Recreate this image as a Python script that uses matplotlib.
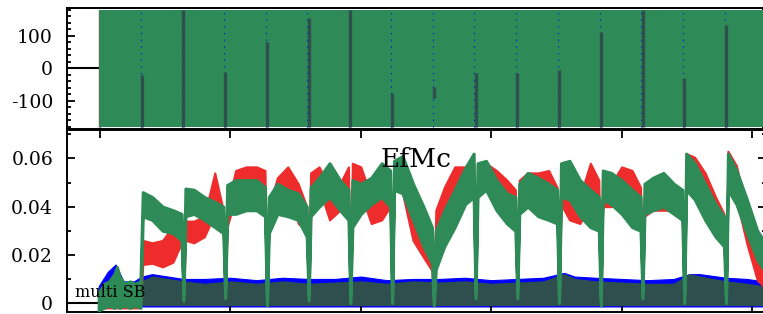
import matplotlib
matplotlib.use("Agg")
import matplotlib.pyplot as plt
import numpy as np
from matplotlib.ticker import MultipleLocator

plt.rcParams['font.family'] = 'DejaVu Serif'
plt.rcParams['axes.unicode_minus'] = False

# ---- bottom panel: envelopes of the noisy traces (values in 1e-3) ----
t = [-1, 3, 7, 11, 13, 15, 19, 23, 27, 31,
     32.8, 40, 48, 56, 62.5,
     64, 65.5, 72, 80, 88, 94.5,
     96, 97.5, 104, 112, 120, 126.5,
     128, 129.5, 136, 144, 152, 158.5,
     160, 161.5, 168, 176, 184, 190.5,
     192, 193.5, 200, 208, 216, 222.5,
     224, 225.5, 232, 240, 248, 254.5,
     256, 257.5, 264, 272, 280, 286.5,
     288, 289.5, 296, 304, 312, 318.5,
     320, 321.5, 328, 336, 344, 350.5,
     352, 353.5, 360, 368, 376, 382.5,
     384, 385.5, 392, 400, 408, 414.5,
     416, 417.5, 424, 432, 440, 446.5,
     448, 449.5, 456, 464, 472, 478.5,
     480, 481.5, 488, 496, 504, 509]

green_hi = [4, 8, 9, 12, 15, 11, 8, 9, 8, 9,
            46, 44, 40, 38.5, 37,
            4, 47.5, 47, 44, 42, 40,
            5, 49, 51, 51, 51, 48,
            2, 44, 49.5, 47, 45.5, 40,
            4, 48, 52, 58, 51, 47,
            3, 51, 49.5, 52, 58, 55,
            3, 59, 61, 49.5, 40, 31.5,
            2, 30, 38.5, 47, 56, 62,
            5, 58, 59, 51, 45.5, 44,
            5, 49.5, 54, 52, 49.5, 47,
            3, 58, 59, 51, 47, 44,
            2, 55, 54, 51, 47, 44,
            5, 49.5, 52, 54, 49.5, 47,
            3, 62, 58, 49.5, 41, 36,
            3, 62, 55, 43, 30, 26]
green_lo = [-3, -2, -1, -2, -1, -2, -1, -2, -1, -2,
            36, 34.5, 30, 29, 26,
            1, 36, 37, 34.5, 31.5, 29,
            2, 37, 37, 38.5, 38.5, 36,
            -1, 29, 37, 36, 34.5, 27.5,
            1, 36, 40, 44, 38.5, 34.5,
            0, 31.5, 37, 41, 44, 40,
            0, 47, 45.5, 34.5, 23.5, 16.5,
            -1, 14, 23.5, 31.5, 41, 44,
            2, 44, 47, 38.5, 33, 30,
            2, 37, 40, 36, 34.5, 33,
            0, 44, 43, 36, 31.5, 30,
            -1, 43, 41, 37, 31.5, 30,
            2, 37, 38.5, 40, 37, 34.5,
            0, 47, 43, 34.5, 27.5, 23.5,
            0, 47, 41, 29, 18, 14]

red_hi = [3, 6, 8, 10, 9, 7, 6, 7, 6, 6,
          26, 25, 26, 32, 30,
          5, 34, 34, 36, 54, 38.5,
          5, 40, 55, 56.5, 56.5, 55,
          3, 40, 52, 56.5, 49.5, 40,
          4, 54, 56.5, 48, 49.5, 56.5,
          3, 58, 56.5, 44, 51, 55,
          3, 59, 60, 44, 34.5, 27.5,
          2, 38.5, 48, 56.5, 56.5, 60,
          5, 58, 58, 55, 51, 47,
          5, 51, 54, 54, 55, 48,
          3, 48, 47, 44, 58, 51,
          2, 48, 49.5, 56.5, 55, 48,
          5, 44, 42.5, 41, 44, 44,
          3, 62, 60.5, 54, 44, 37,
          3, 63, 57, 38.5, 23.5, 19]
red_lo = [-2, -2, -2, -2, -2, -2, -2, -2, -2, -2,
          16, 16.5, 15, 17, 25,
          2, 26, 25, 27.5, 37, 30,
          2, 31.5, 44, 47, 48, 44,
          0, 30, 44, 48, 33, 30,
          1, 44, 48, 34.5, 38.5, 41,
          0, 48, 45.5, 33, 34.5, 40,
          0, 47, 45.5, 26, 19, 13.5,
          -1, 22, 33, 44, 44, 44,
          2, 48, 47, 45.5, 40, 36,
          2, 40, 44, 45.5, 47, 36,
          0, 41, 34.5, 33, 41, 36,
          -1, 40, 40, 47, 44, 37,
          2, 36, 38.5, 38.5, 38.5, 36,
          0, 47, 47, 37, 30, 26,
          0, 48, 43, 24.7, 9.5, 7]

t_base = [-1, 6, 12, 18, 26, 32, 40, 52, 64, 80, 100, 120, 140, 160, 180,
          200, 220, 240, 260, 280, 300, 320, 340, 356, 364, 380, 400, 420,
          440, 452, 460, 480, 496, 509]
dark_hi = [5, 7, 8, 6, 7, 9, 11, 10, 9, 8, 9, 8, 9, 8, 8.5,
           9, 8, 9, 8.5, 9, 8, 8.5, 9, 12, 10, 9, 8.5, 8,
           8, 12, 11, 9, 8, 7]
blue_hi = [7, 13, 16, 9, 9, 11, 12, 11, 10, 10, 10.5, 9.5, 10.5, 10, 10,
           11, 9.5, 10, 10, 10.5, 9.5, 10, 10.5, 12.5, 11, 10.5, 10, 9.5,
           10, 12, 12, 10.5, 10, 9]
dark_lo = -0.8
blue_lo = -1.4

# ---- top panel: phase fills everything, boundary strips ----
phase_span = (-1.2, 510, -180, 180)
strip_t = [32, 64, 96, 128, 160, 192, 224, 256, 288, 320, 352, 384, 416, 448, 480]
strip_top = [-21, 180, -11, 81, 156, 180, -76, -56, -15, -15, -5, 112, 180, -30, 134]
strip_bot = [-180, -180, -180, -180, -180, -180, -180, -92, -180, -180, -180, -180, -180, -180, -180]

RED = '#EE2C2C'
GREEN = '#2E8B57'
BLUE = '#0000FF'
DARK = '#2F4F4F'

fig = plt.figure(figsize=(7.63, 3.14), dpi=100)
ax1 = fig.add_axes([67 / 763, 1 - 128.5 / 314, 699 / 763, 120.2 / 314])
ax2 = fig.add_axes([67 / 763, 1 - 311.5 / 314, 699 / 763, 182 / 314])

# top
x0, x1, y0, y1 = phase_span
ax1.axhline(0, color='black', lw=1.5, zorder=0)
ax1.vlines([x0 + 0.3], y0, y1, color=RED, lw=1.0, zorder=1)
ax1.vlines([x0 + 0.9], y0, y1, color=BLUE, lw=1.0, ls=(0, (2, 3)), zorder=1)
ax1.fill_between([x0 + 0.6, x1], y0, y1, color=GREEN, lw=0, zorder=2)
ax1.vlines(np.array(strip_t) - 0.9, y0, y1, color=BLUE, lw=0.8, ls=(0, (1, 5)), zorder=3)
ax1.vlines(strip_t, strip_bot, strip_top, color=DARK, lw=2.4, zorder=3)
ax1.set_ylim(-185, 185)
ax1.set_yticks([-100, 0, 100])
ax1.yaxis.set_minor_locator(MultipleLocator(20))

# bottom
s = 1e-3
tb = np.array(t_base)
ax2.axhline(0, color='black', lw=1.5, zorder=0)
ax2.fill_between(tb, blue_lo * s, np.array(blue_hi) * s, color=BLUE, lw=0.8, zorder=1)
ax2.fill_between(tb, dark_lo * s, np.array(dark_hi) * s, color=DARK, lw=0.8, zorder=2)
ax2.fill_between(t, np.array(red_lo) * s, np.array(red_hi) * s, color=RED, lw=1.5, zorder=3)
ax2.fill_between(t, np.array(green_lo) * s, np.array(green_hi) * s, color=GREEN, lw=2.2, zorder=4)
ax2.set_ylim(-0.0035, 0.072)
ax2.set_yticks([0, 0.02, 0.04, 0.06])
ax2.set_yticklabels(['0', '0.02', '0.04', '0.06'])
ax2.yaxis.set_minor_locator(MultipleLocator(0.01))
ax2.tick_params(axis='x', which='both', labelbottom=False)
ax2.text(0.5, 0.796, 'EfMc', transform=ax2.transAxes, ha='center', va='baseline',
         fontsize=19, zorder=10)
ax2.text(0.0114, 0.081, 'multi SB', transform=ax2.transAxes, ha='left', va='baseline',
         fontsize=11.5, zorder=10)

for ax in (ax1, ax2):
    ax.set_xlim(-25.3, 510.7)
    ax.set_xticks([0, 100, 200, 300, 400, 500])
    ax.tick_params(which='both', direction='in', top=True, right=True, width=1.3,
                   labelsize=13.5, pad=10)
    ax.tick_params(which='major', length=6)
    ax.tick_params(which='minor', length=3)
    for sp in ax.spines.values():
        sp.set_linewidth(1.4)
ax1.tick_params(axis='x', which='both', bottom=False, top=False, labelbottom=False)

fig.savefig('out.png', dpi=100)
